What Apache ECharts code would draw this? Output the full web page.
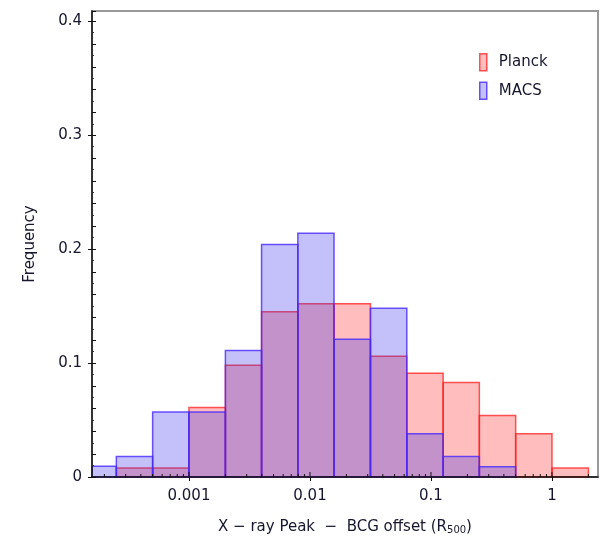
<!DOCTYPE html>
<html>
<head>
<meta charset="utf-8">
<script src="https://cdn.jsdelivr.net/npm/echarts@6/dist/echarts.min.js"></script>
<style>
  html, body { margin: 0; padding: 0; background: #fff; }
  #chart { width: 604px; height: 540px; }
</style>
</head>
<body>
<div id="chart"></div>
<script>
// bin edges (R500), 0.3 dex wide
var binLo = [0.000126, 0.000251, 0.000501, 0.001, 0.002, 0.00398, 0.00794, 0.0158, 0.0316, 0.0631, 0.126, 0.251, 0.501, 1];
var binHi = [0.000251, 0.000501, 0.001, 0.002, 0.00398, 0.00794, 0.0158, 0.0316, 0.0631, 0.126, 0.251, 0.501, 1, 2];
var planck = [0, 0.008, 0.008, 0.061, 0.098, 0.145, 0.152, 0.152, 0.106, 0.091, 0.083, 0.054, 0.038, 0.008];
var macs   = [0.0095, 0.018, 0.057, 0.057, 0.111, 0.204, 0.214, 0.121, 0.148, 0.038, 0.018, 0.009, 0, 0];
var minorTicks = [0.0002, 0.0003, 0.0004, 0.0005, 0.0006, 0.0007, 0.0008, 0.0009,
                  0.002, 0.003, 0.004, 0.005, 0.006, 0.007, 0.008, 0.009,
                  0.02, 0.03, 0.04, 0.05, 0.06, 0.07, 0.08, 0.09,
                  0.2, 0.3, 0.4, 0.5, 0.6, 0.7, 0.8, 0.9, 2];
var majorTicks = [0.001, 0.01, 0.1, 1];

var font = 'DejaVu Sans';
var ink = '#16162e';
var planckFill = 'rgba(255,0,0,0.26)', planckLine = 'rgba(255,30,30,0.75)';
var macsFill = 'rgba(58,45,235,0.3)', macsLine = 'rgba(70,40,255,0.8)';

function bars(freq) {
    var out = [];
    for (var i = 0; i < freq.length; i++) {
        if (freq[i] > 0) out.push([binLo[i], binHi[i], freq[i]]);
    }
    return out;
}

function barItem(fill, line) {
    return function (params, api) {
        var p0 = api.coord([api.value(0), api.value(2)]);
        var p1 = api.coord([api.value(1), 0]);
        var cs = params.coordSys;
        var shape = echarts.graphic.clipRectByRect(
            { x: p0[0], y: p0[1], width: p1[0] - p0[0], height: p1[1] - p0[1] },
            { x: cs.x, y: cs.y - 1, width: cs.width, height: cs.height + 1 });
        if (!shape) return;
        return { type: 'rect', shape: shape, style: { fill: fill, stroke: line, lineWidth: 1.5 } };
    };
}

function tickItem(len) {
    return function (params, api) {
        var p = api.coord([api.value(0), 0]);
        return { type: 'line', shape: { x1: p[0], y1: p[1], x2: p[0], y2: p[1] - len },
                 style: { stroke: '#111', lineWidth: 1 } };
    };
}

var chart = echarts.init(document.getElementById('chart'));
chart.setOption({
    animation: false,
    textStyle: { fontFamily: font },
    grid: { left: 92, top: 11, right: 6, bottom: 61, show: true, borderColor: '#999', borderWidth: 2 },
    legend: {
        orient: 'vertical', left: 474, top: 48, itemWidth: 7, itemHeight: 17, itemGap: 10,
        icon: 'rect',
        textStyle: { fontFamily: font, fontSize: 15, color: ink, padding: [0, 0, 0, 7] },
        data: [
            { name: 'Planck', itemStyle: { color: planckFill, borderColor: planckLine, borderWidth: 1.5 } },
            { name: 'MACS', itemStyle: { color: macsFill, borderColor: macsLine, borderWidth: 1.5 } }
        ]
    },
    xAxis: {
        type: 'log', logBase: 10, min: 0.000158, max: 2.4, z: 10,
        name: '{t|X − ray Peak  −  BCG offset (R}{s|500}{t|)}',
        nameLocation: 'middle', nameGap: 42,
        nameTextStyle: { rich: {
            t: { fontFamily: font, fontSize: 15, color: ink },
            s: { fontFamily: font, fontSize: 10, color: ink, padding: [6, 0, 0, 0] }
        } },
        axisLine: { lineStyle: { color: '#111', width: 1.5 } },
        axisTick: { length: 4, lineStyle: { color: '#111' } },
        splitLine: { show: false },
        axisLabel: { fontSize: 15, color: ink, margin: 12, showMinLabel: false, showMaxLabel: false,
                     formatter: function (v) { return String(+v.toPrecision(3)); } }
    },
    yAxis: [{
        type: 'value', min: 0, max: 0.409, interval: 0.1, z: 10,
        name: 'Frequency', nameLocation: 'middle', nameGap: 54,
        nameTextStyle: { fontFamily: font, fontSize: 15, color: ink },
        axisLine: { show: true, lineStyle: { color: '#111', width: 1.5 } },
        axisTick: { show: true, length: 4, lineStyle: { color: '#111' } },
        splitLine: { show: false },
        axisLabel: { fontSize: 15, color: ink, margin: 10, showMaxLabel: false,
                     formatter: function (v) { return v === 0 ? '0' : String(+v.toFixed(1)); } }
    }, {
        type: 'value', min: 0, max: 0.409, interval: 0.02, position: 'left', z: 10,
        axisLine: { show: false },
        axisTick: { show: true, inside: true, length: 4, lineStyle: { color: '#111' } },
        minorTick: { show: true, splitNumber: 2, length: 2, lineStyle: { color: '#333' } },
        splitLine: { show: false }, minorSplitLine: { show: false },
        axisLabel: { show: false }
    }],
    series: [
        { name: 'Planck', type: 'custom', renderItem: barItem(planckFill, planckLine),
          itemStyle: { color: planckFill, borderColor: planckLine },
          encode: { x: [0, 1], y: 2 }, data: bars(planck), z: 2 },
        { name: 'MACS', type: 'custom', renderItem: barItem(macsFill, macsLine),
          itemStyle: { color: macsFill, borderColor: macsLine },
          encode: { x: [0, 1], y: 2 }, data: bars(macs), z: 3 },
        { name: 'minor', type: 'custom', renderItem: tickItem(3), silent: true, z: 11,
          encode: { x: 0, y: 1 }, data: minorTicks.map(function (v) { return [v, 0]; }) },
        { name: 'major', type: 'custom', renderItem: tickItem(5), silent: true, z: 11,
          encode: { x: 0, y: 1 }, data: majorTicks.map(function (v) { return [v, 0]; }) }
    ]
});
</script>
</body>
</html>
